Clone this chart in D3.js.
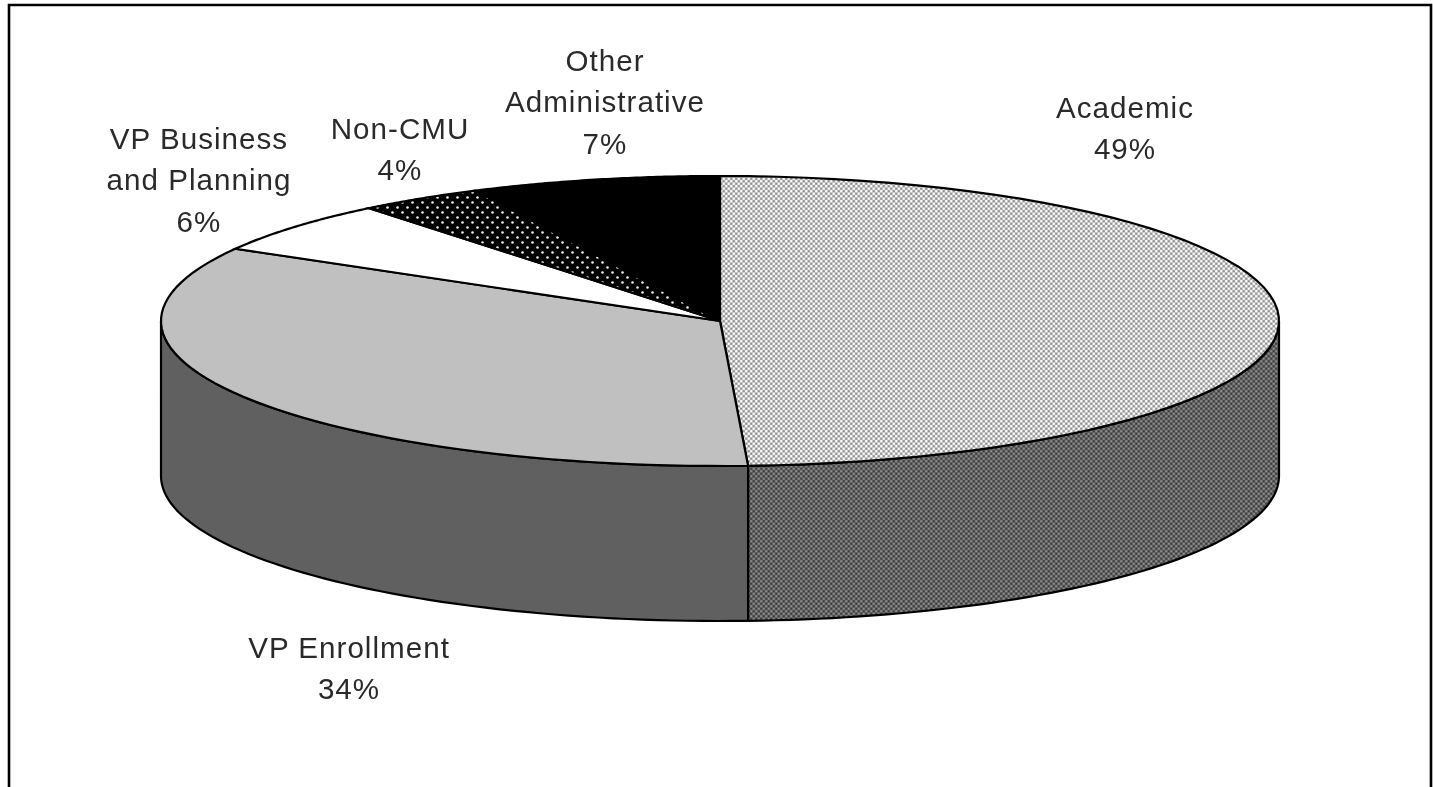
<!DOCTYPE html>
<html><head><meta charset="utf-8">
<script src="https://cdn.jsdelivr.net/npm/d3@7"></script>
<style>html,body{margin:0;padding:0;background:#fff;overflow:hidden}svg{display:block}text{font-family:"Liberation Sans",Arial,sans-serif;font-size:29px;letter-spacing:1px;fill:#2a2a2a}</style>
</head><body><svg id="c" width="1433" height="787"></svg>
<script>
const categories=["Academic","VP Enrollment","VP Business and Planning","Non-CMU","Other Administrative"];
const values=[49.2,34.1,5.9,3.6,7.2];
const labelLines=[["Academic","49%"],["VP Enrollment","34%"],["VP Business","and Planning","6%"],["Non-CMU","4%"],["Other","Administrative","7%"]];
const labelAnchors=[[1125,110],[349,650],[199,141],[400,131],[605,63]];
const topFills=["url(#pAcademic)","#c0c0c0","#ffffff","url(#pDots)","#000000"];
const sideFills=["url(#pAcademicDark)","#616161","#ffffff","#000000","#000000"];
const W=1433,H=787,cx=720,cy=321,rx=559,ry=145,depth=155,textStretch=1.02;
const svg=d3.select("#c");
const defs=svg.append("defs");
defs.append("filter").attr("id","soft").attr("x","-2%").attr("y","-2%").attr("width","104%").attr("height","104%")
 .append("feGaussianBlur").attr("stdDeviation",0.45);
function pat(id,size,bg,dots){const p=defs.append("pattern").attr("id",id).attr("width",size).attr("height",size).attr("patternUnits","userSpaceOnUse");
 p.append("rect").attr("width",size).attr("height",size).attr("fill",bg);
 dots.forEach(d=>p.append("circle").attr("cx",d[0]).attr("cy",d[1]).attr("r",d[2]).attr("fill",d[3]));}
pat("pAcademic",5,"#c2c2c2",[[1.25,1.25,1.15,"#ffffff"],[3.75,3.75,1.15,"#ffffff"],[1.25,3.75,1.05,"#8e8e8e"],[3.75,1.25,1.05,"#8e8e8e"]]);
pat("pAcademicDark",5,"#616161",[[1.25,1.25,1.1,"#8e8e8e"],[3.75,3.75,1.1,"#8e8e8e"],[1.25,3.75,1.05,"#3c3c3c"],[3.75,1.25,1.05,"#3c3c3c"]]);
pat("pDots",10,"#000000",[[2.5,2.5,1.3,"#f0f0f0"],[7.5,7.5,1.3,"#f0f0f0"]]);
const pie=d3.pie().sort(null).value(d=>d)(values);
const px=a=>cx+rx*Math.sin(a),py=a=>cy-ry*Math.cos(a);
const steps=(a0,a1)=>d3.range(0,61).map(k=>a0+(a1-a0)*k/60);
const g=svg.append("g").attr("filter","url(#soft)");
const lo=Math.PI/2,hi=3*Math.PI/2;
pie.forEach((s,i)=>{
 const a0=Math.max(s.startAngle,lo),a1=Math.min(s.endAngle,hi);
 if(a1<=a0)return;
 const t=steps(a0,a1);
 const pts=t.map(a=>[px(a),py(a)]).concat(t.slice().reverse().map(a=>[px(a),py(a)+depth]));
 g.append("path").attr("d",d3.line()(pts)+"Z").attr("fill",sideFills[i]).attr("stroke","#000").attr("stroke-width",2.2);
});
pie.forEach((s,i)=>{
 const pts=[[cx,cy]].concat(steps(s.startAngle,s.endAngle).map(a=>[px(a),py(a)]));
 g.append("path").attr("d",d3.line()(pts)+"Z").attr("fill",topFills[i]).attr("stroke","#000").attr("stroke-width",2.2);
});
const tg=svg.append("g").attr("filter","url(#soft)");
labelLines.forEach((ls,i)=>{
 const t=tg.append("text").attr("text-anchor","middle").attr("dominant-baseline","middle")
  .attr("transform",`translate(${labelAnchors[i][0]},${labelAnchors[i][1]}) scale(${textStretch},1)`);
 ls.forEach((l,j)=>t.append("tspan").attr("x",0).attr("y",j*41.3).text(l));
});
const frame=[[9,787],[9,5],[1431,5],[1431,787]];
svg.append("path").attr("d",d3.line()(frame)).attr("fill","none").attr("stroke","#000").attr("stroke-width",2.6);
</script></body></html>
